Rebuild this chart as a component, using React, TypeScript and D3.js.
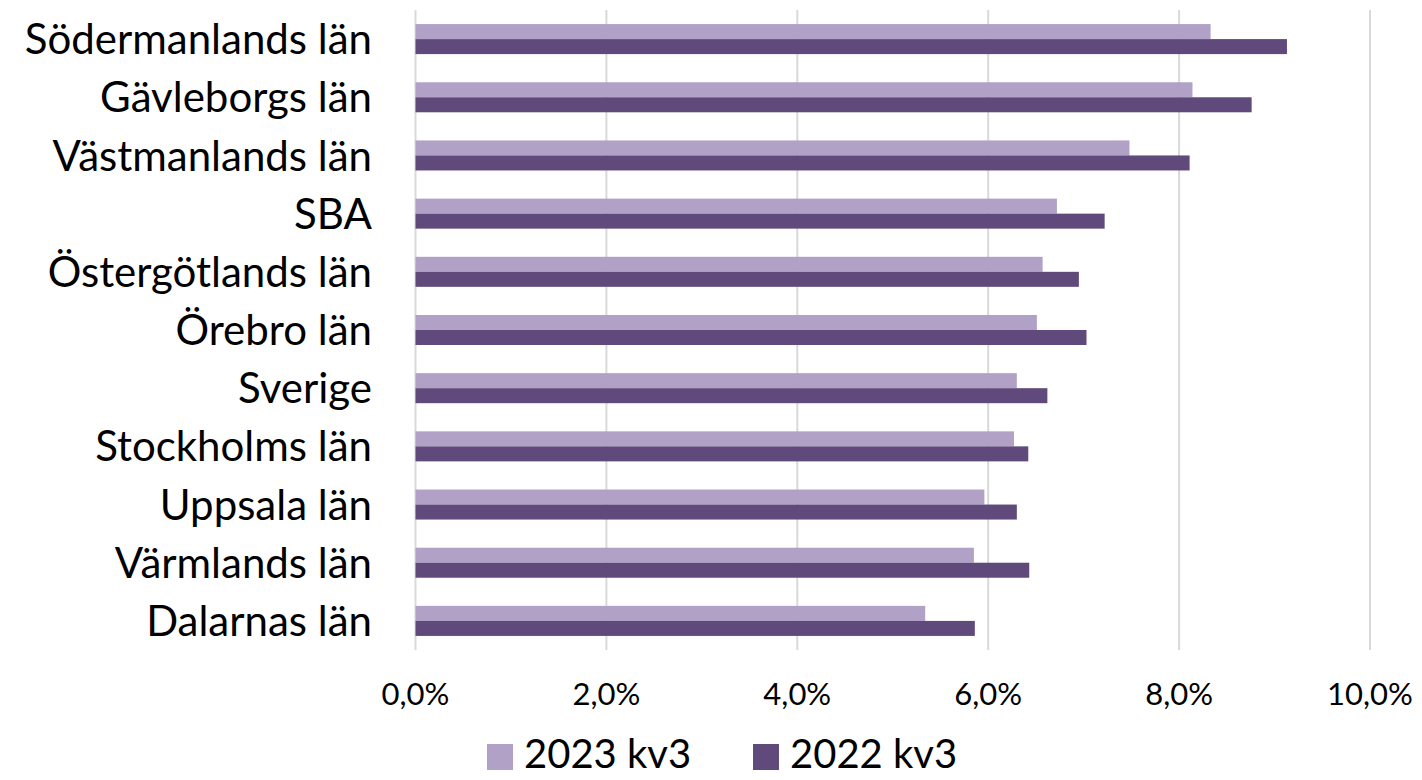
import React from "react";
import * as d3 from "d3";

// categories, top to bottom
const categories = [
  "Södermanlands län",
  "Gävleborgs län",
  "Västmanlands län",
  "SBA",
  "Östergötlands län",
  "Örebro län",
  "Sverige",
  "Stockholms län",
  "Uppsala län",
  "Värmlands län",
  "Dalarnas län",
];

const seriesNames = ["2023 kv3", "2022 kv3"];
const seriesColors = ["#b1a1c7", "#604a7b"];

// values in percent
const values2023 = [8.33, 8.14, 7.48, 6.72, 6.57, 6.51, 6.3, 6.27, 5.96, 5.85, 5.34];
const values2022 = [9.13, 8.76, 8.11, 7.22, 6.95, 7.03, 6.62, 6.42, 6.3, 6.43, 5.86];

const xTicks = [0, 2, 4, 6, 8, 10];

const FONT = "Lato, 'Open Sans', sans-serif";

export default function App() {
  const width = 1422, height = 780;
  const margin = { top: 10, right: 52, bottom: 130, left: 415.5 };

  const x = d3.scaleLinear().domain([0, 10]).range([margin.left, width - margin.right]);
  const y = d3.scaleBand<string>()
    .domain(categories)
    .range([margin.top, height - margin.bottom])
    .paddingInner(0.484)
    .paddingOuter(0.242);
  const sub = d3.scaleBand<number>().domain([0, 1]).range([0, y.bandwidth()]);

  const data = categories.map((c, i) => ({ cat: c, vals: [values2023[i], values2022[i]] }));
  const fmt = (d: number) => d3.format(".1f")(d).replace(".", ",") + "%";

  return (
    <svg width={width} height={height} style={{ position: "absolute", left: 0, top: 0 }}>
      <rect width={width} height={height} fill="#fff" />
      {/* gridlines */}
      {xTicks.map(t => (
        <line key={t} x1={x(t)} x2={x(t)} y1={margin.top} y2={height - margin.bottom}
          stroke="#d9d9d9" strokeWidth={2} />
      ))}
      {/* bars */}
      {data.map(d => (
        <g key={d.cat} transform={`translate(0,${y(d.cat)})`}>
          {d.vals.map((v, j) => (
            <rect key={j} x={x(0)} y={sub(j)} width={x(v) - x(0)} height={sub.bandwidth()}
              fill={seriesColors[j]} />
          ))}
          <text x={372} y={y.bandwidth() / 2} dy="0.36em" textAnchor="end"
            fontFamily={FONT} fontSize={42} fill="#000">{d.cat}</text>
        </g>
      ))}
      {/* x tick labels */}
      {xTicks.map(t => (
        <text key={t} x={x(t)} y={705} textAnchor="middle" fontFamily={FONT} fontSize={31}
          fill="#000">{fmt(t)}</text>
      ))}
      {/* legend */}
      {seriesNames.map((s, j) => {
        const lx = [487, 753][j];
        return (
          <g key={s}>
            <rect x={lx} y={744} width={26} height={26} fill={seriesColors[j]} />
            <text x={lx + 37} y={768} fontFamily={FONT} fontSize={40} fill="#000">{s}</text>
          </g>
        );
      })}
    </svg>
  );
}
